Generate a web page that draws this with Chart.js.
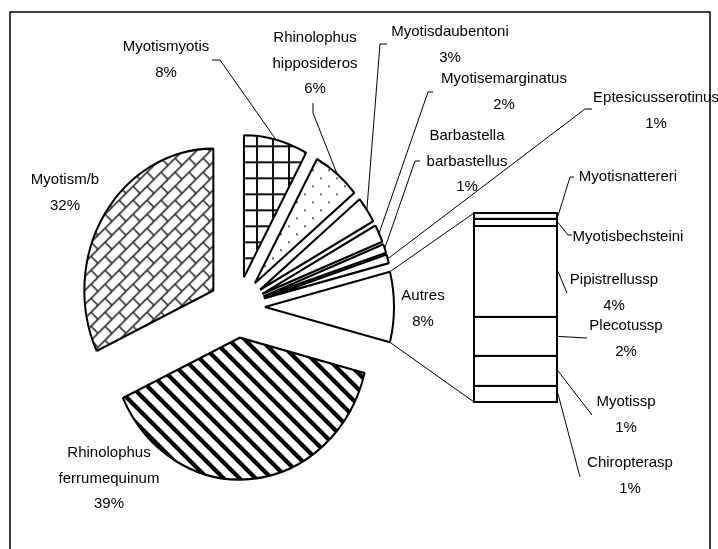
<!DOCTYPE html>
<html>
<head>
<meta charset="utf-8">
<script src="https://cdn.jsdelivr.net/npm/chart.js@4.4.1/dist/chart.umd.min.js"></script>
<style>
  html, body { margin: 0; padding: 0; background: #fff; }
  #wrap { position: relative; width: 718px; height: 549px; overflow: hidden; }
  #pie { position: absolute; left: 0; top: 0; }
  #bar { position: absolute; left: 471px; top: 210px; }
</style>
</head>
<body>
<div id="wrap">
  <canvas id="pie" width="718" height="549"></canvas>
  <canvas id="bar" width="89" height="195"></canvas>
</div>
<script>
// main pie, clockwise from 12 o'clock (%)
const species = ['Myotismyotis', 'Rhinolophus hipposideros', 'Myotisdaubentoni', 'Myotisemarginatus',
  'Barbastella barbastellus', 'Eptesicusserotinus', 'Autres', 'Rhinolophus ferrumequinum', 'Myotism/b'];
const shares = [8, 6, 3, 2, 1, 1, 8, 39, 32];

// "Autres" broken down in the side bar, top to bottom (%)
const otherSpecies = ['Myotisnattereri', 'Myotisbechsteini', 'Pipistrellussp', 'Plecotussp', 'Myotissp', 'Chiropterasp'];
const otherShares = [0.25, 0.3, 3.85, 1.65, 1.27, 0.68];
const otherShowPct = [false, false, true, true, true, true];

// label placement (layout only)
const pieLabelPos = [
  { x: 166, y: 47, leader: [[220, 60], [212, 60]] },
  { x: 315, y: 38, leader: [[313, 113], [313, 103]] },
  { x: 450, y: 32, leader: [[380, 44], [387, 44]] },
  { x: 504, y: 79, leader: [[428, 92], [433, 92]] },
  { x: 467, y: 136, leader: [[415, 161], [420, 161]] },
  { x: 656, y: 98, leader: [[585, 109], [592, 109]] },
  { x: 423, y: 296 },
  { x: 109, y: 453 },
  { x: 65, y: 180 }
];
const barLabelPos = [
  { x: 628, y: 177, leader: [[570, 177], [574, 177]] },
  { x: 628, y: 237, leader: [[568, 235], [572, 235]] },
  { x: 614, y: 280, leader: [[567, 293]] },
  { x: 626, y: 326, leader: [[587, 338]] },
  { x: 626, y: 402, leader: [[592, 415]] },
  { x: 630, y: 463, leader: [[580, 477]] }
];

const FONT = '15px "Liberation Sans", Arial, sans-serif';
const LINE_H = 25.5;
const EXPLODE = 28;
const PIE_R = 129;
const STRETCH_Y = 1.1;
const BAR_LEFT = 471, BAR_TOP = 210;

function tile(size, draw) {
  const c = document.createElement('canvas');
  c.width = c.height = size;
  const g = c.getContext('2d');
  g.fillStyle = '#fff';
  g.fillRect(0, 0, size, size);
  draw(g, size);
  const p = g.createPattern(c, 'repeat');
  p.setTransform(new DOMMatrix([1, 0, 0, 1 / STRETCH_Y, 0, 0]));
  return p;
}

const gridFill = tile(16, g => {
  g.fillStyle = '#111';
  g.fillRect(0, 0, 16, 2);
  g.fillRect(0, 0, 2, 16);
});
const dotFill = tile(16, g => {
  g.fillStyle = '#666';
  g.fillRect(0, 0, 2, 2);
  g.fillRect(8, 8, 2, 2);
});
// wide downward diagonal, pixel by pixel so tiles join cleanly
const stripeFill = tile(16, (g, n) => {
  g.fillStyle = '#000';
  for (let y = 0; y < n; y++) {
    for (let x = 0; x < n; x++) {
      if ((x - y + n) % n < 6) g.fillRect(x, y, 1, 1);
    }
  }
});
const brickFill = tile(14, (g, n) => {
  g.strokeStyle = '#333';
  g.lineWidth = 1.6;
  g.beginPath();
  for (const k of [0, n, 2 * n]) { g.moveTo(k + 1, -1); g.lineTo(k - n - 1, n + 1); }
  g.moveTo(n / 2, n / 2); g.lineTo(n + 1, n + 1);
  g.moveTo(-1, -1); g.lineTo(0.5, 0.5);
  g.stroke();
});

const fills = [gridFill, dotFill, '#fff', '#fff', '#fff', '#fff', '#fff', stripeFill, brickFill];

function drawLines(ctx, lines, x, y) {
  lines.forEach((t, i) => ctx.fillText(t, x, y + i * LINE_H));
}

function polyline(ctx, start, pts) {
  ctx.beginPath();
  ctx.moveTo(start[0], start[1]);
  pts.forEach(p => ctx.lineTo(p[0], p[1]));
  ctx.stroke();
}

// side bar
const barOutline = {
  id: 'barOutline',
  afterDatasetsDraw(chart) {
    const ctx = chart.ctx;
    ctx.save();
    ctx.strokeStyle = '#000';
    ctx.lineWidth = 2;
    chart.data.datasets.forEach((d, i) => {
      const el = chart.getDatasetMeta(i).data[0];
      const top = Math.min(el.y, el.base);
      ctx.strokeRect(el.x - el.width / 2, top, el.width, Math.abs(el.base - el.y));
    });
    ctx.restore();
  }
};

const otherTotal = otherShares.reduce((a, b) => a + b, 0);
const barChart = new Chart(document.getElementById('bar'), {
  type: 'bar',
  data: {
    labels: ['Autres'],
    datasets: otherSpecies.map((name, i) => ({
      label: name,
      data: [otherShares[i]],
      backgroundColor: '#fff',
      borderWidth: 0,
      barPercentage: 1,
      categoryPercentage: 1
    })).reverse()
  },
  options: {
    responsive: false,
    animation: false,
    events: [],
    layout: { padding: 3 },
    scales: {
      x: { stacked: true, display: false },
      y: { stacked: true, display: false, min: 0, max: otherTotal }
    },
    plugins: { legend: { display: false }, tooltip: { enabled: false } }
  },
  plugins: [barOutline]
});

function barSegment(name) {
  const i = barChart.data.datasets.findIndex(d => d.label === name);
  const el = barChart.getDatasetMeta(i).data[0];
  return {
    left: BAR_LEFT + el.x - el.width / 2,
    right: BAR_LEFT + el.x + el.width / 2,
    top: BAR_TOP + Math.min(el.y, el.base),
    bottom: BAR_TOP + Math.max(el.y, el.base)
  };
}

// main pie
const pieDecor = {
  id: 'pieDecor',
  afterDatasetsUpdate(chart) {
    chart.getDatasetMeta(0).data.forEach(arc => {
      const mid = (arc.startAngle + arc.endAngle) / 2;
      arc.x += Math.cos(mid) * EXPLODE;
      arc.y += Math.sin(mid) * EXPLODE;
    });
  },
  beforeDatasetsDraw(chart) {
    const ctx = chart.ctx;
    const cy = (chart.chartArea.top + chart.chartArea.bottom) / 2;
    ctx.save();
    ctx.translate(0, cy);
    ctx.scale(1, STRETCH_Y);
    ctx.translate(0, -cy);
  },
  afterDatasetsDraw(chart) {
    chart.ctx.restore();
  },
  afterDraw(chart) {
    const ctx = chart.ctx;
    const cy = (chart.chartArea.top + chart.chartArea.bottom) / 2;
    const sy = y => cy + (y - cy) * STRETCH_Y;
    const arcs = chart.getDatasetMeta(0).data;
    const onArc = (arc, a) => [arc.x + Math.cos(a) * arc.outerRadius, sy(arc.y + Math.sin(a) * arc.outerRadius)];

    ctx.save();
    ctx.strokeStyle = '#000';
    ctx.lineWidth = 1.5;
    ctx.strokeRect(10, 12, 700, 600);

    ctx.lineWidth = 1;
    ctx.font = FONT;
    ctx.fillStyle = '#000';
    ctx.textAlign = 'center';
    ctx.textBaseline = 'middle';

    arcs.forEach((arc, i) => {
      const pos = pieLabelPos[i];
      drawLines(ctx, [...species[i].split(' '), shares[i] + '%'], pos.x, pos.y);
      if (pos.leader) {
        polyline(ctx, onArc(arc, (arc.startAngle + arc.endAngle) / 2), pos.leader);
      }
    });

    // connectors between "Autres" and the bar
    const autres = arcs[species.indexOf('Autres')];
    const first = barSegment(otherSpecies[0]);
    const last = barSegment(otherSpecies[otherSpecies.length - 1]);
    polyline(ctx, onArc(autres, autres.startAngle), [[first.left, first.top]]);
    polyline(ctx, onArc(autres, autres.endAngle), [[last.left, last.bottom]]);

    otherSpecies.forEach((name, i) => {
      const seg = barSegment(name);
      const pos = barLabelPos[i];
      const lines = otherShowPct[i] ? [name, Math.round(otherShares[i]) + '%'] : [name];
      drawLines(ctx, lines, pos.x, pos.y);
      polyline(ctx, [seg.right + 1, (seg.top + seg.bottom) / 2], pos.leader);
    });
    ctx.restore();
  }
};

new Chart(document.getElementById('pie'), {
  type: 'pie',
  data: {
    labels: species,
    datasets: [{
      data: shares,
      backgroundColor: fills,
      borderColor: '#000',
      borderWidth: 2,
      clip: false
    }]
  },
  options: {
    responsive: false,
    animation: false,
    events: [],
    radius: PIE_R,
    layout: { padding: { left: 0, right: 244, top: 65, bottom: 0 } },
    plugins: { legend: { display: false }, tooltip: { enabled: false } }
  },
  plugins: [pieDecor]
});
</script>
</body>
</html>
